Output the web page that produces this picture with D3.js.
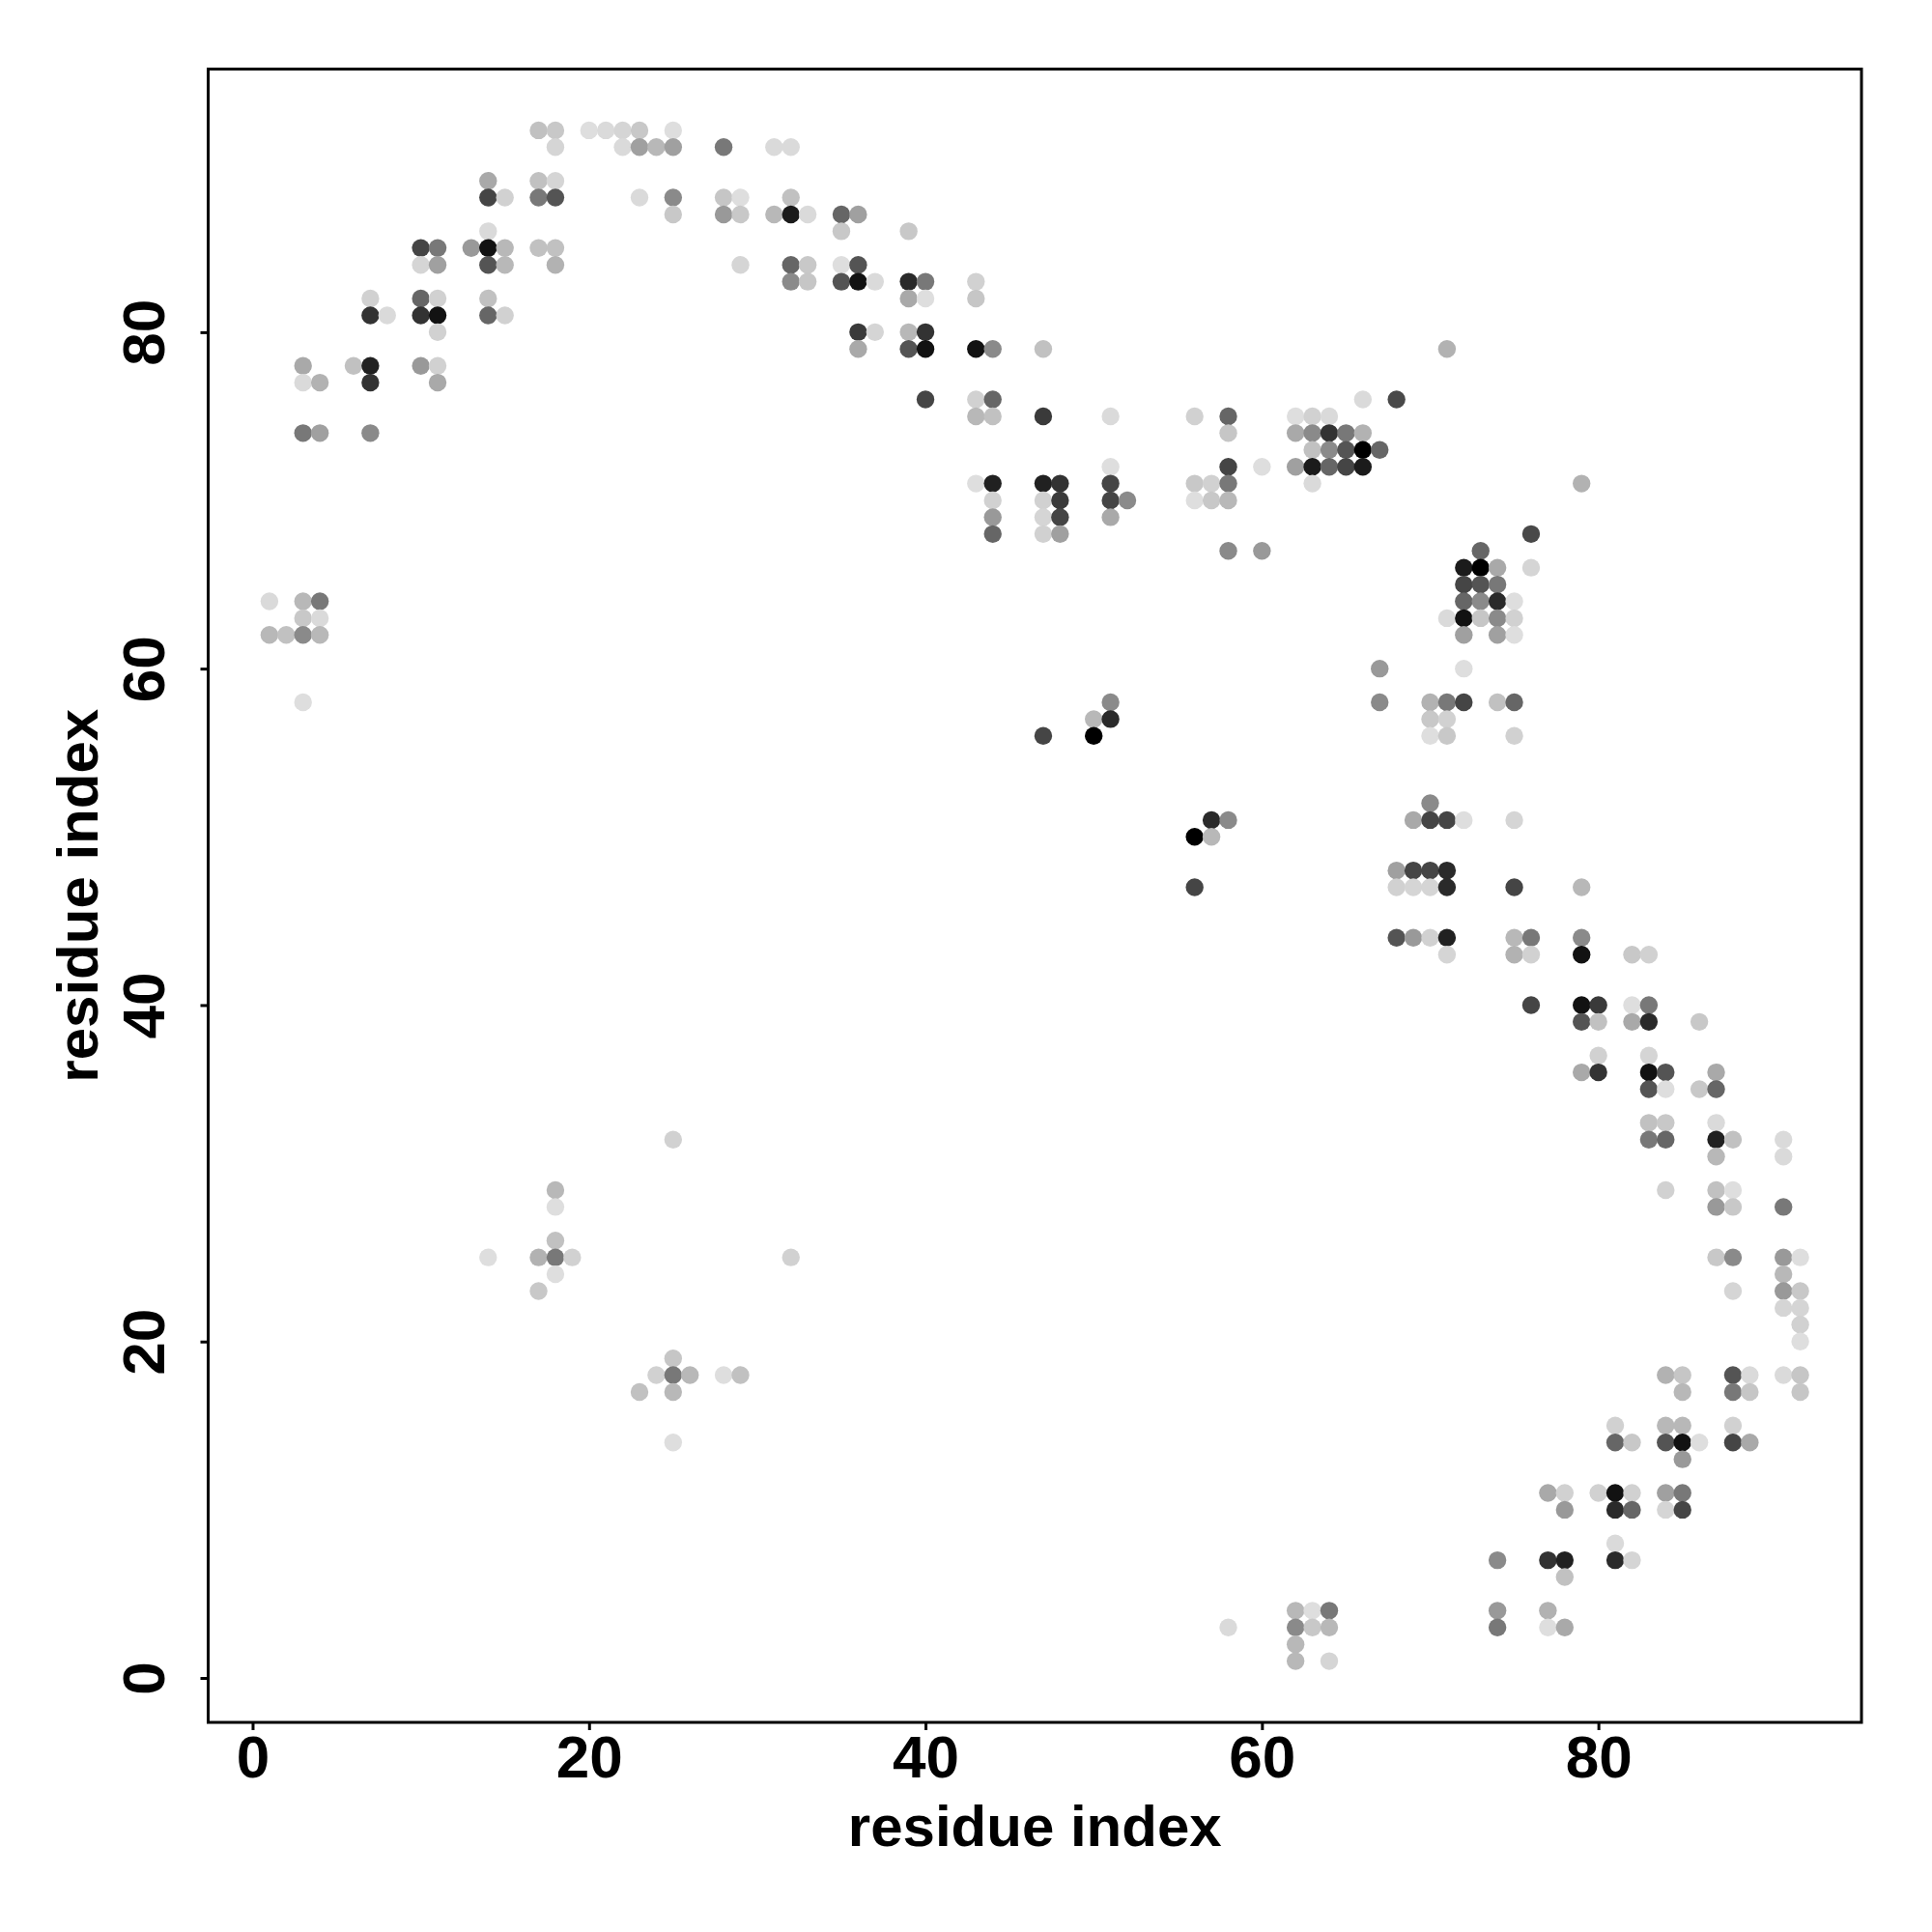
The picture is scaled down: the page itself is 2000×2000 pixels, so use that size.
<!DOCTYPE html>
<html>
<head>
<meta charset="utf-8">
<script src="https://cdn.jsdelivr.net/npm/d3@7/dist/d3.min.js"></script>
<style>
  html, body { margin: 0; padding: 0; background: #ffffff; }
  svg { display: block; }
</style>
</head>
<body>
<svg id="chart" width="2000" height="2000"></svg>
<script>
// ---- data: contacts grouped by row (residue j), with residues i and scores ----
const rowJ = [92, 91, 89, 88, 87, 86, 85, 84, 83, 82, 81, 80, 79, 78, 77, 76, 75, 74, 73, 72, 71, 70, 69, 68, 67, 66, 65, 64, 63, 62, 60, 58, 57, 56, 52, 51, 50, 48, 47, 44, 43, 40, 39, 37, 36, 35, 33, 32, 31, 29, 28, 26, 25, 24, 23, 22, 21, 20, 19, 18, 17, 15, 14, 13, 11, 10, 8, 7, 6, 4, 3, 2, 1];
const rowI = [
  [17,18,20,21,22,23,25],
  [18,22,23,24,25,28,31,32],
  [14,17,18],
  [14,15,17,18,23,25,28,29,32],
  [25,28,29,31,32,33,35,36],
  [14,35,39],
  [10,11,13,14,15,17,18],
  [10,11,14,15,18,29,32,33,35,36],
  [32,33,35,36,37,39,40,43],
  [7,10,11,14,39,40,43],
  [7,8,10,11,14,15],
  [11,36,37,39,40],
  [36,39,40,43,44,47,71],
  [3,6,7,10,11],
  [3,4,7,11],
  [40,43,44,66,68],
  [43,44,47,51,56,58,62,63,64],
  [3,4,7,58,62,63,64,65,66],
  [63,64,65,66,67],
  [51,58,60,62,63,64,65,66],
  [43,44,47,48,51,56,57,58,63,79],
  [44,47,48,51,52,56,57,58],
  [44,47,48,51],
  [44,47,48,76],
  [58,60,73],
  [72,73,74,76],
  [72,73,74],
  [1,3,4,72,73,74,75],
  [3,4,71,72,73,74,75],
  [1,2,3,4,72,74,75],
  [67,72],
  [3,51,67,70,71,72,74,75],
  [50,51,70,71],
  [47,50,70,71,75],
  [70],
  [57,58,69,70,71,72,75],
  [56,57],
  [68,69,70,71],
  [56,68,69,70,71,75,79],
  [68,69,70,71,75,76,79],
  [71,75,76,79,82,83],
  [76,79,80,82,83],
  [79,80,82,83,86],
  [80,83],
  [79,80,83,84,87],
  [83,84,86,87],
  [83,84,87],
  [25,83,84,87,88,91],
  [87,91],
  [18,84,87,88],
  [18,87,88,91],
  [18],
  [14,17,18,19,32,87,88,91,92],
  [18,91],
  [17,88,91,92],
  [91,92],
  [92],
  [92],
  [25],
  [24,25,26,28,29,84,85,88,89,91,92],
  [23,25,85,88,89,92],
  [81,84,85,88],
  [25,81,82,84,85,86,88,89],
  [85],
  [77,78,80,81,82,84,85],
  [78,81,82,84,85],
  [81],
  [74,77,78,81,82],
  [78],
  [62,63,64,74,77],
  [58,62,63,64,74,77,78],
  [62],
  [62,64]
];
const rowScore = [
  [.13,.10,0,.02,.04,.10,0],
  [.04,.02,.28,.17,.28,.46,.02,.02],
  [.24,.13,.04],
  [.69,.06,.46,.62,.02,.38,.11,0,.13],
  [.10,.31,.10,.17,.88,.02,.54,.28],
  [.02,.10,.10],
  [.69,.46,.31,.92,.17,.13,.13],
  [.04,.28,.62,.17,.20,.04,.54,.10,0,.62],
  [.38,.11,.62,.92,.02,.81,.46,.06],
  [.06,.54,.06,.13,.24,0,.11],
  [.77,.02,.77,.92,.54,.06],
  [.06,.74,.04,.17,.77],
  [.24,.62,.92,.92,.38,.13,.20],
  [.24,.13,.85,.31,.06],
  [.02,.20,.77,.24],
  [.69,.06,.54,.02,.67],
  [.17,.13,.74,.02,.06,.54,0,.06,.02],
  [.46,.28,.38,.11,.24,.38,.77,.46,.20],
  [.13,.38,.62,1,.54],
  [0,.69,0,.28,.88,.54,.69,.88],
  [0,.85,.85,.77,.69,.10,.06,.46,.02,.20],
  [.06,.06,.74,.69,.38,0,.10,.17],
  [.31,.04,.69,.24],
  [.54,.06,.28,.67],
  [.38,.31,.54],
  [.88,1,.24,.04],
  [.69,.62,.46],
  [.02,.17,.46,.54,.38,.81,0],
  [.10,.02,.02,.92,.11,.38,.06],
  [.17,.13,.38,.17,.28,.28,0],
  [.31,0],
  [0,.38,.38,.20,.46,.69,.13,.54],
  [.17,.81,.10,.06],
  [.69,1,0,.10,.06],
  [.38],
  [.81,.38,.24,.69,.69,0,.04],
  [1,.17],
  [.28,.69,.69,.81],
  [.69,.06,.04,.04,.81,.69,.17],
  [.62,.31,.06,.85,.17,.46,.38],
  [.04,.20,.06,.92,.10,.06],
  [.69,.92,.74,0,.46],
  [.62,.13,.24,.81,.10],
  [.06,.04],
  [.24,.77,.92,.62,.24],
  [.62,0,.10,.54],
  [.13,.10,.02],
  [.06,.46,.54,.85,.13,.02],
  [.17,.02],
  [.17,.06,.13,0],
  [0,.31,.10,.46],
  [.13],
  [0,.20,.46,.06,.06,.10,.38,.31,0],
  [0,.17],
  [.10,.04,.31,.10],
  [.04,.04],
  [.06],
  [0],
  [.11],
  [.06,.46,.17,0,.13,.20,.11,.62,.02,.02,.11],
  [.13,.17,.17,.46,.11,.11],
  [.06,.17,.17,.06],
  [0,.54,.10,.62,.92,0,.69,.24],
  [.31],
  [.24,.06,.06,.92,.06,.28,.46],
  [.31,.81,.54,.04,.69],
  [.02],
  [.38,.77,.85,.81,.04],
  [.13],
  [.17,0,.46,.31,.20],
  [.02,.38,.10,.17,.46,0,.24],
  [.17],
  [.17,.04]
];
const tickValues = [0, 20, 40, 60, 80];
const xLabel = "residue index";
const yLabel = "residue index";
const residueRange = [1, 92];

// ---- build flat point list ----
const points = [];
rowJ.forEach((j, r) => {
  const is = rowI[r], ss = rowScore[r];
  const n = Math.min(is.length, ss.length);
  for (let k = 0; k < n; k++) points.push({ i: is[k], j: j, s: ss[k] });
});

// ---- layout ----
const plot = { left: 215.5, right: 1927, top: 71.5, bottom: 1783 };
const pad = 0.04 * (residueRange[1] - residueRange[0]);
const dom = [residueRange[0] - pad, residueRange[1] + pad];

const x = d3.scaleLinear().domain(dom).range([plot.left, plot.right]);
const y = d3.scaleLinear().domain(dom).range([plot.bottom, plot.top]);
const color = d3.scaleLinear().domain([0, 1]).range(["#dedede", "#000000"]);

const svg = d3.select("#chart");
svg.append("rect").attr("width", 2000).attr("height", 2000).attr("fill", "#ffffff");

const font = "'Liberation Sans', Arial, Helvetica, sans-serif";

// points
svg.append("g")
  .selectAll("circle")
  .data(points)
  .join("circle")
  .attr("cx", d => x(d.i))
  .attr("cy", d => y(d.j))
  .attr("r", 9.2)
  .attr("fill", d => color(d.s));

// box
svg.append("rect")
  .attr("x", plot.left).attr("y", plot.top)
  .attr("width", plot.right - plot.left).attr("height", plot.bottom - plot.top)
  .attr("fill", "none").attr("stroke", "#000").attr("stroke-width", 3);

// x axis
const gx = svg.append("g")
  .attr("transform", `translate(0,${plot.bottom})`)
  .call(d3.axisBottom(x).tickValues(tickValues).tickSize(8).tickFormat(d3.format("d")));
gx.select(".domain").remove();
gx.selectAll(".tick line").attr("stroke", "#000").attr("stroke-width", 3);
gx.selectAll(".tick text")
  .attr("y", 57).attr("dy", 0)
  .attr("font-family", font).attr("font-weight", "bold").attr("font-size", 62)
  .attr("fill", "#000");

// y axis
const gy = svg.append("g")
  .attr("transform", `translate(${plot.left},0)`)
  .call(d3.axisLeft(y).tickValues(tickValues).tickSize(8).tickFormat(d3.format("d")));
gy.select(".domain").remove();
gy.selectAll(".tick line").attr("stroke", "#000").attr("stroke-width", 3);
gy.selectAll(".tick text")
  .attr("x", 0).attr("y", -45.5).attr("dy", 0)
  .attr("transform", "rotate(-90)")
  .attr("text-anchor", "middle")
  .attr("font-family", font).attr("font-weight", "bold").attr("font-size", 62)
  .attr("fill", "#000");

// axis titles
svg.append("text")
  .attr("x", (plot.left + plot.right) / 2).attr("y", 1911)
  .attr("text-anchor", "middle")
  .attr("font-family", font).attr("font-weight", "bold").attr("font-size", 60)
  .text(xLabel);

svg.append("text")
  .attr("transform", `translate(101,${(plot.top + plot.bottom) / 2}) rotate(-90)`)
  .attr("text-anchor", "middle")
  .attr("font-family", font).attr("font-weight", "bold").attr("font-size", 60)
  .text(yLabel);
</script>
</body>
</html>
